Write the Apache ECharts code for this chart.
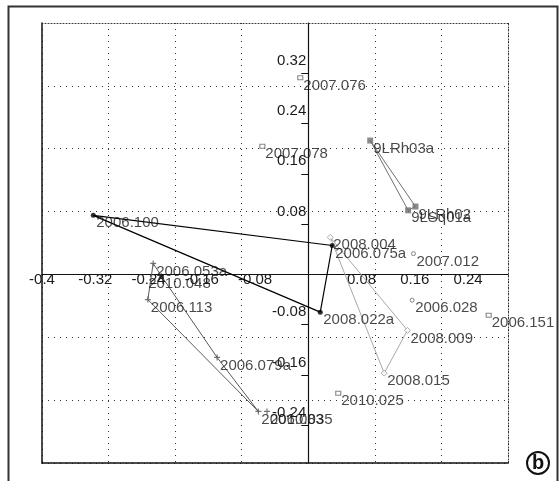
<!DOCTYPE html>
<html>
<head>
<meta charset="utf-8">
<script src="https://cdn.jsdelivr.net/npm/echarts@6/dist/echarts.min.js"></script>
<style>
  html, body { margin: 0; padding: 0; background: #fff; }
  #chart { width: 560px; height: 481px; }
</style>
</head>
<body>
<div id="chart"></div>
<script>
// Axis ranges: grid lines every 0.1, labels every 0.08
const X_MIN = -0.4, X_MAX = 0.3;
const Y_MIN = -0.3, Y_MAX = 0.4;
const xTickValues = [-0.4, -0.32, -0.24, -0.16, -0.08, 0.08, 0.16, 0.24];
const yTickValues = [-0.24, -0.16, -0.08, 0.08, 0.16, 0.24, 0.32];

// Group 1: black hull
const blackNames = ['2006.100', '2006.075a', '2008.022a'];
const blackX = [-0.323, 0.036, 0.018];
const blackY = [0.094, 0.046, -0.060];

// Group 2: light grey hull
const lightNames = ['2008.004', '2008.009', '2008.015'];
const lightX = [0.033, 0.149, 0.114];
const lightY = [0.059, -0.089, -0.157];

// Group 3: 9L samples
const nineNames = ['9LRh03a', '9LSq01a', '9LRh02'];
const nineX = [0.093, 0.150, 0.161];
const nineY = [0.213, 0.102, 0.108];

// Group 4: grey hull
const greyNames = ['2006.053a', '2010.048', '2006.113', '2006.079a', '2006.083', '2010.035'];
const greyX = [-0.233, -0.221, -0.241, -0.137, -0.075, -0.062];
const greyY = [0.0175, -0.002, -0.040, -0.132, -0.218, -0.218];
const greyHullOrder = [0, 1, 3, 4, 2];

// Ungrouped samples
const squareNames = ['2007.076', '2007.078', '2006.151', '2010.025'];
const squareX = [-0.012, -0.069, 0.271, 0.045];
const squareY = [0.313, 0.204, -0.065, -0.189];

const ringNames = ['2007.012', '2006.028'];
const ringX = [0.158, 0.156];
const ringY = [0.033, -0.041];

const FONT = 'Liberation Sans, Arial, sans-serif';
const TXT = '#1a1a1a';

const GRID = { left: 42, top: 23, width: 466, height: 440 };
// shift the labelled axes from the grid edge onto the zero lines
const xZeroOffset = -GRID.height * (0 - Y_MIN) / (Y_MAX - Y_MIN);
const yZeroOffset = -GRID.width * (0 - X_MIN) / (X_MAX - X_MIN);

function points(names, xs, ys) {
  return names.map((n, i) => ({ name: n, value: [xs[i], ys[i]] }));
}
function hull(xs, ys, order) {
  const idx = order || xs.map((_, i) => i);
  const pts = idx.map(i => [xs[i], ys[i]]);
  pts.push(pts[0]);
  return pts;
}
function pointLabel(extra) {
  return Object.assign({
    show: true,
    position: 'inside',
    align: 'left',
    verticalAlign: 'middle',
    offset: [3, 8],
    formatter: p => p.name,
    color: TXT,
    fontFamily: FONT,
    fontSize: 15
  }, extra || {});
}
function hullSeries(data, color, width) {
  return {
    type: 'line', data: data, symbol: 'none', silent: true, z: 2,
    xAxisIndex: 0, yAxisIndex: 0,
    lineStyle: { color: color, width: width || 1 },
    animation: false
  };
}

const greyPts = points(greyNames, greyX, greyY);
greyPts[1].symbol = 'triangle';
greyPts[1].symbolSize = 6;
greyPts[1].itemStyle = { color: '#111' };
greyPts[1].label = { offset: [-13, 8] };

const chart = echarts.init(document.getElementById('chart'), null, { renderer: 'canvas' });

const dotted = { color: '#333', width: 1, type: [1, 5] };
const edgeDotted = { color: '#333', width: 1, type: [1, 2] };

chart.setOption({
  animation: false,
  backgroundColor: '#fff',
  grid: Object.assign({ containLabel: false }, GRID),
  xAxis: [
    { // grid lines every 0.1, solid bottom border
      type: 'value', min: X_MIN, max: X_MAX, interval: 0.1, position: 'bottom',
      axisLine: { onZero: false, lineStyle: { color: '#111', width: 1.5 } },
      axisTick: { show: false }, axisLabel: { show: false },
      splitLine: { show: true, lineStyle: dotted }
    },
    { // zero axis with labels
      type: 'value', min: X_MIN, max: X_MAX, position: 'bottom', offset: xZeroOffset,
      axisLine: { onZero: false, lineStyle: { color: '#111', width: 1.2 } },
      axisTick: { show: false },
      axisLabel: {
        show: true, customValues: xTickValues, margin: -2,
        formatter: v => String(+v.toFixed(2)),
        color: TXT, fontFamily: FONT, fontSize: 15
      },
      splitLine: { show: false }
    },
    { // dotted top border
      type: 'value', min: X_MIN, max: X_MAX, position: 'top',
      axisLine: { onZero: false, lineStyle: edgeDotted },
      axisTick: { show: false }, axisLabel: { show: false }, splitLine: { show: false }
    }
  ],
  yAxis: [
    {
      type: 'value', min: Y_MIN, max: Y_MAX, interval: 0.1, position: 'left',
      axisLine: { onZero: false, lineStyle: { color: '#111', width: 1.5 } },
      axisTick: { show: false }, axisLabel: { show: false },
      splitLine: { show: true, lineStyle: dotted }
    },
    {
      type: 'value', min: Y_MIN, max: Y_MAX, position: 'left', offset: yZeroOffset,
      axisLine: { onZero: false, lineStyle: { color: '#111', width: 1.2 } },
      axisTick: { show: true, customValues: yTickValues, length: 7, lineStyle: { color: '#111' } },
      axisLabel: {
        show: true, customValues: yTickValues, margin: 2,
        verticalAlign: 'bottom', padding: [0, 0, 5, 0],
        formatter: v => String(+v.toFixed(2)),
        color: TXT, fontFamily: FONT, fontSize: 15
      },
      splitLine: { show: false }
    },
    { // dotted right border
      type: 'value', min: Y_MIN, max: Y_MAX, position: 'right',
      axisLine: { onZero: false, lineStyle: edgeDotted },
      axisTick: { show: false }, axisLabel: { show: false }, splitLine: { show: false }
    }
  ],
  series: [
    hullSeries(hull(blackX, blackY), '#000', 1.2),
    hullSeries(hull(lightX, lightY), '#a8a8a8', 1),
    hullSeries(hull(nineX, nineY), '#707070', 1),
    hullSeries(hull(greyX, greyY, greyHullOrder), '#5a5a5a', 1),
    {
      type: 'scatter', data: points(blackNames, blackX, blackY), z: 5,
      symbol: 'circle', symbolSize: 5, itemStyle: { color: '#000' },
      label: pointLabel()
    },
    {
      type: 'scatter', data: points(lightNames, lightX, lightY), z: 4,
      symbol: 'diamond', symbolSize: 6,
      itemStyle: { color: '#fff', borderColor: '#999', borderWidth: 1 },
      label: pointLabel()
    },
    {
      type: 'scatter', data: points(nineNames, nineX, nineY), z: 4,
      symbol: 'rect', symbolSize: 6, itemStyle: { color: '#6e6e6e' },
      label: pointLabel()
    },
    {
      type: 'scatter', data: greyPts, z: 4,
      symbol: 'path://M4,0H6V4H10V6H6V10H4V6H0V4H4Z', symbolSize: 6,
      itemStyle: { color: '#555' },
      label: pointLabel()
    },
    {
      type: 'scatter', data: points(squareNames, squareX, squareY), z: 4,
      symbol: 'rect', symbolSize: [5, 4],
      itemStyle: { color: '#fff', borderColor: '#666', borderWidth: 1 },
      label: pointLabel()
    },
    {
      type: 'scatter', data: points(ringNames, ringX, ringY), z: 4,
      symbol: 'circle', symbolSize: 4,
      itemStyle: { color: '#fff', borderColor: '#666', borderWidth: 1 },
      label: pointLabel()
    }
  ],
  graphic: [
    { // outer panel frame
      type: 'polyline', silent: true,
      shape: { points: [[8.5, 481], [8.5, 6.5], [557.5, 6.5], [557.5, 481]] },
      style: { stroke: '#333', lineWidth: 2, fill: null }
    },
    {
      type: 'circle', silent: true,
      shape: { cx: 538, cy: 463, r: 11 },
      style: { stroke: '#111', lineWidth: 2, fill: '#fff' }
    },
    {
      type: 'text', silent: true, x: 538, y: 463,
      style: {
        text: 'b', fill: '#111', font: 'bold 20px Liberation Sans, Arial, sans-serif',
        align: 'center', verticalAlign: 'middle'
      }
    }
  ]
});
</script>
</body>
</html>
